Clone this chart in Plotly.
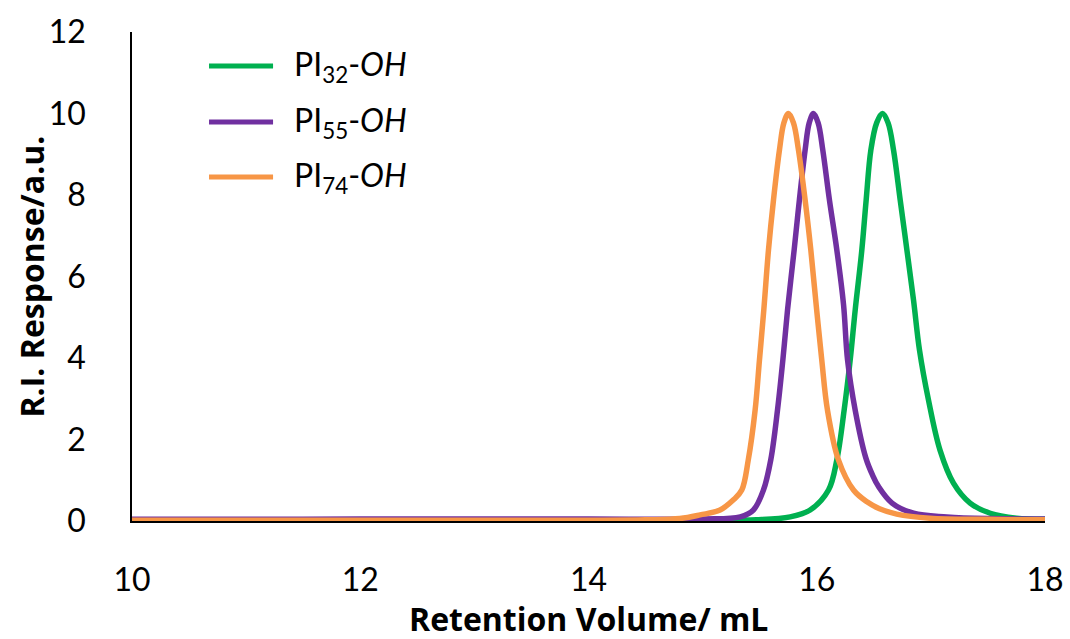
import plotly.graph_objects as go

# ---- data ----
pi32_x = [10.0, 11.0, 12.0, 13.0, 14.0, 15.0, 15.47, 15.767, 15.942, 16.103, 16.176, 16.24,
          16.293, 16.337, 16.395, 16.433, 16.474, 16.525, 16.576, 16.625, 16.673, 16.731,
          16.79, 16.848, 16.9, 16.979, 17.08, 17.198, 17.344, 17.52, 17.75, 18.0]
pi32_y = [0.02, 0.02, 0.02, 0.02, 0.02, 0.02, 0.03, 0.10, 0.27, 0.76, 1.50, 2.72,
          3.95, 5.18, 6.65, 7.88, 9.10, 9.77, 10.0, 9.77, 9.10, 7.88,
          6.65, 5.42, 4.20, 2.97, 1.74, 0.93, 0.44, 0.19, 0.07, 0.04]

pi55_x = [10.0, 11.0, 12.0, 13.0, 14.0, 15.0, 15.33, 15.445, 15.533, 15.597, 15.656, 15.703,
          15.744, 15.802, 15.848, 15.898, 15.934, 15.971, 16.012, 16.053, 16.111, 16.176,
          16.235, 16.27, 16.337, 16.43, 16.49, 16.54, 16.66, 16.848, 17.14, 17.5, 18.0]
pi55_y = [0.04, 0.04, 0.05, 0.05, 0.05, 0.05, 0.10, 0.27, 0.76, 1.50, 2.72, 3.95,
          5.18, 6.65, 7.88, 9.10, 9.77, 10.0, 9.77, 9.10, 7.88, 6.65,
          5.30, 3.95, 2.72, 1.55, 1.12, 0.85, 0.44, 0.19, 0.10, 0.06, 0.05]

pi74_x = [10.0, 11.0, 12.0, 13.0, 14.0, 14.5, 14.8, 14.978, 15.153, 15.27, 15.343, 15.40,
          15.46, 15.498, 15.536, 15.577, 15.621, 15.673, 15.712, 15.752, 15.796, 15.84,
          15.898, 15.948, 15.995, 16.044, 16.094, 16.19, 16.322, 16.44, 16.55, 16.70,
          16.99, 17.5, 18.0]
pi74_y = [0.02, 0.02, 0.02, 0.02, 0.02, 0.03, 0.06, 0.15, 0.27, 0.52, 0.76, 1.50,
          2.72, 3.95, 5.18, 6.65, 7.88, 9.10, 9.77, 10.0, 9.77, 9.10,
          7.88, 6.65, 5.30, 3.95, 2.72, 1.50, 0.76, 0.47, 0.30, 0.17,
          0.07, 0.04, 0.03]

series_names = ["PI<sub>32</sub>-<i>OH</i>", "PI<sub>55</sub>-<i>OH</i>", "PI<sub>74</sub>-<i>OH</i>"]
series_colors = ["#00B050", "#7030A0", "#F79646"]
x_ticks = [10, 12, 14, 16, 18]
y_ticks = [0, 2, 4, 6, 8, 10, 12]
x_title = "<b>Retention Volume/ mL</b>"
y_title = "<b>R.I. Response/a.u.</b>"

FONT = "Lato"
TITLE_FONT = "Open Sans"

fig = go.Figure()
for xs, ys, name, col in zip([pi32_x, pi55_x, pi74_x], [pi32_y, pi55_y, pi74_y],
                             series_names, series_colors):
    fig.add_trace(go.Scatter(x=xs, y=ys, mode="lines", name=name,
                             line=dict(color=col, width=5.5, shape="spline", smoothing=1.0),
                             showlegend=False))

# custom legend (matches reference layout)
leg_y = [11.166, 9.79, 8.44]
for name, col, yy in zip(series_names, series_colors, leg_y):
    fig.add_shape(type="line", xref="x", yref="y", x0=10.675, x1=11.236, y0=yy, y1=yy,
                  line=dict(color=col, width=5))
    fig.add_annotation(x=11.40, y=yy, xref="x", yref="y", text=name, showarrow=False,
                       xanchor="left", yanchor="middle",
                       font=dict(family=FONT, size=32, color="black"))

# axis titles
fig.add_annotation(x=0.5, y=0, xref="paper", yref="paper", text=x_title, showarrow=False,
                   xanchor="center", yanchor="middle", yshift=-97,
                   font=dict(family=TITLE_FONT, size=32, color="black"))
fig.add_annotation(x=0, y=0.5, xref="paper", yref="paper", text=y_title, showarrow=False,
                   xanchor="center", yanchor="middle", xshift=-101, textangle=-90,
                   font=dict(family=TITLE_FONT, size=32, color="black"))

fig.update_layout(
    width=1070, height=639,
    margin=dict(l=132, r=25, t=32, b=118, autoexpand=False),
    plot_bgcolor="white", paper_bgcolor="white",
    font=dict(family=FONT, size=32, color="black"),
    showlegend=False,
)
fig.update_xaxes(range=[10, 18], tickvals=x_ticks, showgrid=False, zeroline=False,
                 showline=True, linecolor="black", linewidth=2, ticks="",
                 ticklabelstandoff=30, automargin=False)
fig.update_yaxes(range=[0, 12], tickvals=y_ticks, showgrid=False, zeroline=False,
                 showline=True, linecolor="black", linewidth=1.5, ticks="",
                 ticklabelstandoff=38, automargin=False)

fig.write_html("out.html")
